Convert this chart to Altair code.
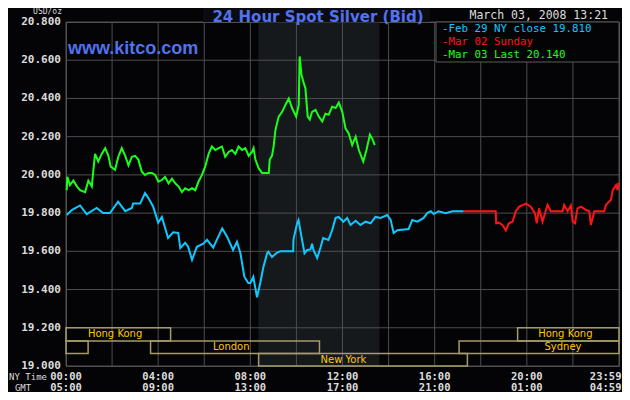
import altair as alt
import pandas as pd

# ---------------- data ----------------
feb29_hours = [0.03, 0.25, 0.61, 0.90, 1.33, 1.61, 1.91, 2.26, 2.57, 2.86, 2.91, 3.22, 3.43, 3.57, 3.78,
               4.00, 4.16, 4.43, 4.65, 4.87, 4.96, 5.17, 5.30, 5.47, 5.68, 5.96, 6.12, 6.39, 6.61, 6.78,
               6.99, 7.25, 7.42, 7.57, 7.74, 7.91, 8.00, 8.13, 8.29, 8.43, 8.57, 8.73, 8.78, 8.94, 9.16,
               9.30, 9.86, 9.87, 10.03, 10.09, 10.17, 10.35, 10.47, 10.61, 10.68, 10.74, 10.90, 11.04,
               11.16, 11.39, 11.55, 11.70, 11.83, 12.04, 12.20, 12.35, 12.57, 12.78, 13.00, 13.22, 13.43,
               13.65, 13.94, 14.09, 14.22, 14.38, 14.87, 15.03, 15.25, 15.52, 15.68, 15.83, 15.96, 16.17,
               16.48, 16.77, 17.26]
feb29_price = [19.790, 19.816, 19.840, 19.795, 19.827, 19.800, 19.800, 19.860, 19.810, 19.827, 19.850,
               19.850, 19.905, 19.880, 19.835, 19.750, 19.780, 19.670, 19.700, 19.696, 19.617, 19.645,
               19.624, 19.555, 19.624, 19.640, 19.660, 19.620, 19.677, 19.720, 19.677, 19.607, 19.650,
               19.590, 19.467, 19.434, 19.434, 19.467, 19.360, 19.434, 19.520, 19.590, 19.598, 19.570,
               19.593, 19.600, 19.600, 19.660, 19.747, 19.764, 19.710, 19.590, 19.607, 19.610, 19.640,
               19.607, 19.565, 19.617, 19.670, 19.660, 19.710, 19.775, 19.780, 19.755, 19.775, 19.738,
               19.760, 19.738, 19.755, 19.747, 19.780, 19.775, 19.790, 19.764, 19.696, 19.710, 19.717,
               19.764, 19.755, 19.775, 19.800, 19.810, 19.795, 19.810, 19.800, 19.810, 19.810]

mar02_hours = [17.26, 18.65, 18.67, 18.78, 18.94, 19.09, 19.22, 19.38, 19.52, 19.67, 19.96, 20.17, 20.35,
               20.43, 20.53, 20.68, 20.83, 20.90, 21.04, 21.55, 21.62, 21.77, 21.91, 21.99, 22.09, 22.20,
               22.35, 22.57, 22.71, 22.78, 22.93, 23.36, 23.43, 23.65, 23.73, 23.87, 23.94, 23.98]
mar02_price = [19.810, 19.810, 19.747, 19.750, 19.738, 19.710, 19.747, 19.755, 19.810, 19.834, 19.850,
               19.834, 19.800, 19.747, 19.825, 19.755, 19.816, 19.843, 19.810, 19.810, 19.843, 19.810,
               19.840, 19.755, 19.747, 19.825, 19.834, 19.816, 19.810, 19.738, 19.810, 19.810, 19.843,
               19.870, 19.920, 19.947, 19.920, 19.960]

mar03_hours = [0.03, 0.06, 0.17, 0.32, 0.47, 0.61, 0.83, 0.97, 1.12, 1.19, 1.26, 1.40, 1.55, 1.70, 1.84,
               1.94, 2.13, 2.27, 2.42, 2.57, 2.71, 2.86, 3.00, 3.14, 3.29, 3.43, 3.58, 3.73, 3.87, 4.01,
               4.16, 4.30, 4.45, 4.60, 4.74, 4.88, 5.03, 5.17, 5.32, 5.47, 5.61, 5.75, 5.90, 6.04, 6.19,
               6.33, 6.48, 6.62, 6.77, 6.91, 7.06, 7.20, 7.35, 7.49, 7.64, 7.78, 7.93, 8.07, 8.14, 8.22,
               8.36, 8.51, 8.80, 8.84, 8.94, 9.01, 9.09, 9.23, 9.38, 9.52, 9.67, 9.81, 9.99, 10.10, 10.14,
               10.22, 10.32, 10.39, 10.49, 10.58, 10.68, 10.83, 10.97, 11.12, 11.26, 11.40, 11.55, 11.70,
               11.84, 11.99, 12.13, 12.27, 12.42, 12.57, 12.71, 12.90, 13.04, 13.19, 13.29, 13.40]
mar03_price = [19.920, 19.990, 19.947, 19.970, 19.940, 19.920, 19.910, 19.970, 19.940, 20.026, 20.110,
               20.070, 20.110, 20.140, 20.100, 20.043, 20.026, 20.095, 20.140, 20.100, 20.050, 20.095,
               20.100, 20.080, 20.017, 20.000, 20.010, 20.010, 20.000, 19.964, 19.973, 19.990, 19.956,
               19.980, 19.956, 19.940, 19.910, 19.930, 19.920, 19.930, 19.920, 19.964, 20.000, 20.043,
               20.110, 20.148, 20.130, 20.140, 20.148, 20.095, 20.120, 20.130, 20.110, 20.148, 20.130,
               20.140, 20.100, 20.120, 20.140, 20.080, 20.035, 20.010, 20.010, 20.080, 20.100, 20.148,
               20.235, 20.305, 20.330, 20.366, 20.400, 20.350, 20.305, 20.366, 20.620, 20.523, 20.480,
               20.453, 20.305, 20.290, 20.330, 20.340, 20.305, 20.280, 20.320, 20.315, 20.357, 20.350,
               20.378, 20.330, 20.244, 20.217, 20.156, 20.200, 20.130, 20.070, 20.130, 20.210, 20.190,
               20.156]

series_names = ["Feb 29 NY close 19.810", "Mar 02 Sunday", "Mar 03 Last 20.140"]
series_colors = ["#10c8ff", "#ff1414", "#1aff1a"]

y_ticks = [19.0, 19.2, 19.4, 19.6, 19.8, 20.0, 20.2, 20.4, 20.6, 20.8]
x_grid_hours = [0, 2, 4, 6, 8, 10, 12, 14, 16, 18, 20, 22, 24]
x_label_hours = [0, 4, 8, 12, 16, 20, 23.42]
ny_time_labels = ["00:00", "04:00", "08:00", "12:00", "16:00", "20:00", "23:59"]
gmt_labels = ["05:00", "09:00", "13:00", "17:00", "21:00", "01:00", "04:59"]

session_names = ["Hong Kong", "", "London", "New York", "Sydney", "Hong Kong"]
session_start = [0.0, 0.0, 3.67, 8.36, 17.06, 19.60]
session_end = [4.54, 0.96, 11.0, 17.42, 24.0, 24.0]
session_row = [0, 1, 1, 2, 1, 0]
session_label_hour = [2.13, 0.5, 7.17, 12.04, 21.57, 21.67]
row_bounds = [19.2, 19.131, 19.065, 19.0]

comex_start, comex_end = 8.35, 13.6

chart_title = "24 Hour Spot Silver (Bid)"
site_text = "www.kitco.com"
stamp_text = "March 03, 2008 13:21"
unit_text = "USD/oz"

# ---------------- frames ----------------
lines_df = pd.concat([
    pd.DataFrame({"hour": feb29_hours, "price": feb29_price, "series": series_names[0]}),
    pd.DataFrame({"hour": mar02_hours, "price": mar02_price, "series": series_names[1]}),
    pd.DataFrame({"hour": mar03_hours, "price": mar03_price, "series": series_names[2]}),
], ignore_index=True)

sess_df = pd.DataFrame({
    "name": session_names,
    "start": session_start,
    "end": session_end,
    "top": [row_bounds[r] for r in session_row],
    "bottom": [row_bounds[r + 1] for r in session_row],
    "mid": [(row_bounds[r] + row_bounds[r + 1]) / 2 for r in session_row],
    "lab": session_label_hour,
})

xs = alt.Scale(domain=[0, 24], nice=False, zero=False)
ys = alt.Scale(domain=[19.0, 20.8], nice=False, zero=False)
MONO = "DejaVu Sans Mono"
BG = "#040406"
GRID = "#4e4e4e"
LABEL = "#dcdcdc"
BLUE = "#5272ee"

one = pd.DataFrame({"a": [0]})

shade = alt.Chart(pd.DataFrame({"s": [comex_start], "e": [comex_end], "lo": [19.0], "hi": [20.8]})).mark_rect(
    color="#16191c").encode(
    x=alt.X("s:Q", scale=xs, axis=None), x2="e:Q",
    y=alt.Y("lo:Q", scale=ys, axis=None), y2="hi:Q")

ytick_df = pd.DataFrame({"price": y_ticks, "label": [f"{v:.3f}" for v in y_ticks]})
hgrid = alt.Chart(ytick_df).mark_rule(color=GRID, strokeWidth=1).encode(
    y=alt.Y("price:Q", scale=ys, axis=None))
ylabels = alt.Chart(ytick_df).mark_text(font=MONO, fontSize=11, fontWeight="bold", color=LABEL,
                                        align="right", baseline="middle").encode(
    x=alt.value(-5), y=alt.Y("price:Q", scale=ys, axis=None), text="label:N")

vgrid = alt.Chart(pd.DataFrame({"hour": x_grid_hours})).mark_rule(color=GRID, strokeWidth=1).encode(
    x=alt.X("hour:Q", scale=xs, axis=None))

sess_box = alt.Chart(sess_df).mark_rect(fillOpacity=0, stroke="#a49c66", strokeWidth=1.5).encode(
    x=alt.X("start:Q", scale=xs, axis=None), x2="end:Q",
    y=alt.Y("top:Q", scale=ys, axis=None), y2="bottom:Q")

sess_text = alt.Chart(sess_df).mark_text(font="DejaVu Sans", fontSize=10, color="#ffc800",
                                         baseline="middle", align="center").encode(
    x=alt.X("lab:Q", scale=xs, axis=None), y=alt.Y("mid:Q", scale=ys, axis=None), text="name:N")

lines = alt.Chart(lines_df).mark_line(strokeWidth=2).encode(
    x=alt.X("hour:Q", scale=xs, axis=None),
    y=alt.Y("price:Q", scale=ys, axis=None),
    color=alt.Color("series:N", scale=alt.Scale(domain=series_names, range=series_colors), legend=None),
    order=alt.Order("hour:Q"))

legend_box = alt.Chart(one).mark_rect(fill=BG, stroke="#5a5a5a", strokeWidth=1).encode(
    x=alt.value(370), x2=alt.value(553), y=alt.value(0), y2=alt.value(40))

legend_df = pd.DataFrame({"label": ["-" + s for s in series_names], "color": series_colors,
                          "ypix": [7 + 13 * i for i in range(len(series_names))]})
legend_text = alt.Chart(legend_df).mark_text(font=MONO, fontSize=10.8, align="left", baseline="middle").encode(
    x=alt.value(376), y=alt.Y("ypix:Q", scale=None), text="label:N",
    color=alt.Color("color:N", scale=None))

xlab_df = pd.DataFrame({"hour": x_label_hours, "ny": ny_time_labels, "gmt": gmt_labels})
xlab_ny = alt.Chart(xlab_df).mark_text(font=MONO, fontSize=10.5, fontWeight="bold", color=LABEL,
                                       baseline="middle").encode(
    x=alt.X("hour:Q", scale=xs, axis=None), y=alt.value(355), text="ny:N")
xlab_gmt = alt.Chart(xlab_df).mark_text(font=MONO, fontSize=10.5, fontWeight="bold", color=LABEL,
                                        baseline="middle").encode(
    x=alt.X("hour:Q", scale=xs, axis=None), y=alt.value(365.5), text="gmt:N")

side_ny = alt.Chart(one).mark_text(font=MONO, fontSize=9, color=LABEL, baseline="middle", align="right",
                                   text="NY Time").encode(x=alt.value(-19), y=alt.value(355))
side_gmt = alt.Chart(one).mark_text(font=MONO, fontSize=9, color=LABEL, baseline="middle",
                                    text="GMT").encode(x=alt.value(-43), y=alt.value(365.5))

unit_txt = alt.Chart(one).mark_text(font=MONO, fontSize=8, color=LABEL, baseline="alphabetic", align="right",
                                    text=unit_text).encode(x=alt.value(-4), y=alt.value(-7.8))

title_bg = alt.Chart(one).mark_rect(fill="#0b0b12").encode(
    x=alt.value(137), x2=alt.value(364), y=alt.value(-14), y2=alt.value(0))
title_txt = alt.Chart(one).mark_text(font="DejaVu Sans", fontSize=15, fontWeight="bold",
                                     color=BLUE, baseline="alphabetic", text=chart_title).encode(
    x=alt.value(252), y=alt.value(-0.5))
site_txt = alt.Chart(one).mark_text(font="Liberation Sans", fontSize=18, fontWeight="bold",
                                    color=BLUE, baseline="middle", align="left", text=site_text).encode(
    x=alt.value(2), y=alt.value(27))
stamp_txt = alt.Chart(one).mark_text(font=MONO, fontSize=11.5, color=LABEL, baseline="middle",
                                     align="right", text=stamp_text).encode(
    x=alt.value(542), y=alt.value(-6.5))

chart = alt.layer(
    shade, hgrid, vgrid, sess_box, sess_text, lines, legend_box, legend_text, ylabels,
    xlab_ny, xlab_gmt, side_ny, side_gmt, unit_txt, title_bg, title_txt, site_txt, stamp_txt
).properties(
    width=553, height=344,
    padding={"left": 58, "top": 14, "right": 3, "bottom": 26},
    autosize="none",
    background=BG,
).configure_view(stroke="#555555", strokeWidth=1, fill=BG)

chart.save("out.html", embed_options={"renderer": "svg", "actions": False})
